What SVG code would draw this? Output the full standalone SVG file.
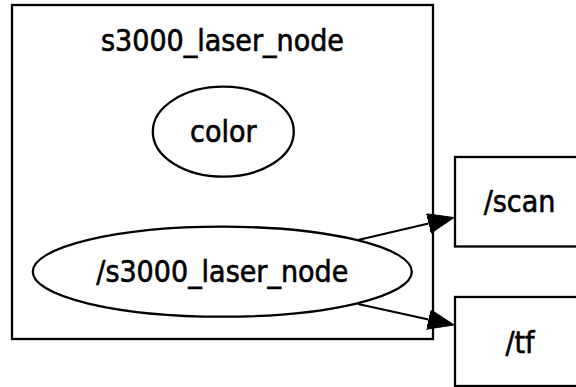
<svg xmlns="http://www.w3.org/2000/svg" width="576" height="387" viewBox="0 0 576 387">
<style>
text{font-family:"DejaVu Sans Condensed","DejaVu Sans",sans-serif;font-stretch:condensed;font-size:30px;fill:#000;stroke:#000;stroke-width:0.6;text-anchor:middle}
.s{fill:none;stroke:#000;stroke-width:2.3}
.w{fill:#fff;stroke:#000;stroke-width:2.3}
</style>
<defs>
<marker id="ah" markerUnits="userSpaceOnUse" markerWidth="28" markerHeight="22" refX="0" refY="10" orient="auto" viewBox="0 0 28 22">
<path d="M0,0 L26,10 L0,20 z" fill="#000" stroke="#000" stroke-width="1"/>
</marker>
</defs>
<rect x="0" y="0" width="576" height="387" fill="#fff"/>
<g id="cluster_s3000_laser_node">
<rect class="s" x="12" y="5" width="421" height="334"/>
<text x="222.5" y="50.5">s3000_laser_node</text>
</g>
<g id="node_color">
<ellipse class="w" cx="223.3" cy="131.7" rx="70.5" ry="45"/>
<text x="223.3" y="141.7">color</text>
</g>
<g id="node_s3000_laser_node">
<ellipse class="w" cx="222.3" cy="271.7" rx="189.5" ry="45"/>
<text x="222.3" y="282.3">/s3000_laser_node</text>
</g>
<g id="node_scan">
<rect class="w" x="455" y="157" width="130" height="89.5"/>
<text x="519.5" y="211.7">/scan</text>
</g>
<g id="node_tf">
<rect class="w" x="455" y="297" width="130" height="89"/>
<text x="520" y="353.3">/tf</text>
</g>
<g id="connectors">
<line class="s" x1="358" y1="240" x2="428.6" y2="223.5" marker-end="url(#ah)"/>
<line class="s" x1="358" y1="304" x2="428.6" y2="319.5" marker-end="url(#ah)"/>
</g>
</svg>
